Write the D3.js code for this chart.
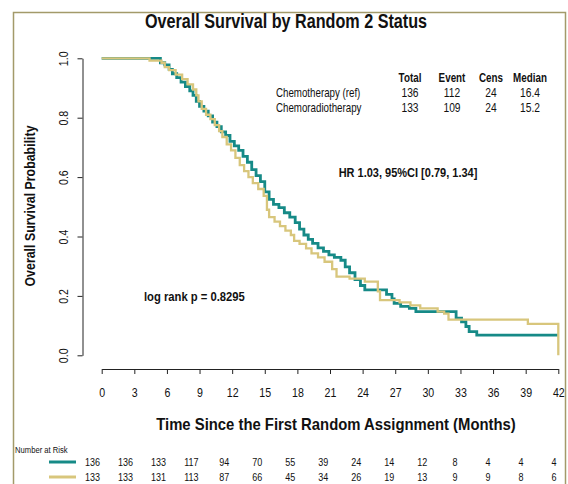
<!DOCTYPE html>
<meta charset="utf-8">
<script src="https://d3js.org/d3.v7.min.js"></script>
<style>
  body { margin: 0; background: #fff; }
  svg text { font-family: "Liberation Sans", Arial, sans-serif; fill: #111; }
</style>
<div id="my_viz"></div>
<script>

// Kaplan-Meier steps: [months, survival]
var chemoSteps = [
  [0, 1.0], [5.4, 0.985], [5.8, 0.978], [6.2, 0.963], [6.5, 0.948], [6.9, 0.935],
  [7.3, 0.92], [7.7, 0.905], [8.1, 0.89], [8.4, 0.875], [8.7, 0.855], [9.0, 0.838],
  [9.4, 0.822], [9.8, 0.806], [10.2, 0.785], [10.6, 0.77], [11.0, 0.752], [11.4, 0.74],
  [11.8, 0.72], [12.2, 0.705], [12.6, 0.69], [13.0, 0.67], [13.4, 0.65], [13.8, 0.625],
  [14.2, 0.605], [14.6, 0.585], [15.0, 0.55], [15.4, 0.525], [15.8, 0.508], [16.3, 0.497],
  [16.8, 0.48], [17.3, 0.465], [17.8, 0.447], [18.2, 0.425], [18.6, 0.405], [19.0, 0.39],
  [19.4, 0.377], [19.9, 0.362], [20.4, 0.35], [20.9, 0.338], [21.4, 0.33], [22.0, 0.32],
  [22.4, 0.298], [22.8, 0.278], [23.3, 0.255], [23.8, 0.235], [24.2, 0.22], [26.2, 0.205],
  [26.7, 0.19], [26.9, 0.175], [27.5, 0.165], [28.3, 0.158], [28.9, 0.147], [32.6, 0.125],
  [33.1, 0.113], [33.5, 0.097], [33.8, 0.08], [34.5, 0.068], [42, 0.068]
];
var chemoradSteps = [
  [0, 1.0], [4.4, 0.992], [5.5, 0.985], [5.8, 0.97], [6.2, 0.96], [6.8, 0.945],
  [7.4, 0.93], [7.9, 0.912], [8.4, 0.895], [8.7, 0.875], [8.9, 0.855], [9.2, 0.83],
  [9.6, 0.81], [10.0, 0.795], [10.4, 0.775], [10.8, 0.755], [11.1, 0.735], [11.5, 0.71],
  [11.9, 0.69], [12.3, 0.665], [12.7, 0.64], [13.1, 0.62], [13.5, 0.6], [13.9, 0.58],
  [14.4, 0.56], [14.9, 0.537], [15.2, 0.49], [15.4, 0.465], [15.9, 0.45], [16.4, 0.435],
  [16.9, 0.42], [17.4, 0.405], [17.7, 0.385], [18.2, 0.375], [18.8, 0.36], [19.3, 0.343],
  [19.9, 0.33], [20.5, 0.315], [21.2, 0.29], [21.6, 0.265], [22.8, 0.258], [24.2, 0.248],
  [25.4, 0.215], [25.6, 0.186], [27.4, 0.178], [28.4, 0.168], [29.3, 0.158], [30.9, 0.147],
  [31.5, 0.14], [31.9, 0.12], [39.2, 0.106], [42, 0.106], [42, 0.0]
];

var groups = ["Chemotherapy (ref)", "Chemoradiotherapy"];
var colors = ["#168a87", "#d8c67c"];
var tableHeader = ["Total", "Event", "Cens", "Median"];
var tableRows = [["136", "112", "24", "16.4"], ["133", "109", "24", "15.2"]];

var xTicks = [0, 3, 6, 9, 12, 15, 18, 21, 24, 27, 30, 33, 36, 39, 42];
var yTicks = [0.0, 0.2, 0.4, 0.6, 0.8, 1.0];
var atRisk = [
  [136, 136, 133, 117, 94, 70, 55, 39, 24, 14, 12, 8, 4, 4, 4],
  [133, 133, 131, 113, 87, 66, 45, 34, 26, 19, 13, 9, 9, 8, 6]
];

var W = 568, H = 484;
var svg = d3.select("#my_viz").append("svg")
    .attr("width", W).attr("height", H);

// the original uses a condensed face, so squeeze text horizontally
function label(px, py, str, size, bold, anchor, sx) {
  return svg.append("text")
    .attr("transform", "translate(" + px + "," + py + ") scale(" + sx + ",1)")
    .attr("text-anchor", anchor)
    .style("font-size", size + "px")
    .style("font-weight", bold ? "bold" : "normal")
    .text(str);
}

// frame
svg.append("rect")
  .attr("x", 13.5).attr("y", 12.5)
  .attr("width", 552).attr("height", 500)
  .attr("fill", "none").attr("stroke", "#a39a6a").attr("stroke-width", 1.5);

var x = d3.scaleLinear().domain([0, 42]).range([101.7, 558.3]);
var y = d3.scaleLinear().domain([0, 1]).range([355.3, 58.3]);

// title
label(286, 28, "Overall Survival by Random 2 Status", 21, true, "middle", 0.77);

// Y axis
var yAxis = svg.append("g")
  .attr("transform", "translate(82.5,0)")
  .call(d3.axisLeft(y).tickValues(yTicks).tickFormat(d3.format(".1f")).tickSize(5).tickSizeOuter(0));
yAxis.selectAll("text")
  .attr("transform", "rotate(-90) scale(0.85,1)")
  .attr("x", 0).attr("y", -15).attr("dy", 0)
  .attr("text-anchor", "middle")
  .style("font-size", "12.5px");

// X axis
var xAxis = svg.append("g")
  .attr("transform", "translate(0,369)")
  .call(d3.axisBottom(x).tickValues(xTicks).tickSize(5).tickSizeOuter(0));
xAxis.selectAll("text")
  .attr("transform", "scale(0.85,1)")
  .attr("x", 0)
  .attr("y", 19)
  .style("font-size", "12.5px");

svg.selectAll(".domain").attr("stroke", "#222");
svg.selectAll(".tick line").attr("stroke", "#222");

// axis titles
svg.append("text")
  .attr("transform", "translate(35,206) rotate(-90) scale(0.8,1)")
  .attr("text-anchor", "middle")
  .style("font-size", "15.5px").style("font-weight", "bold")
  .text("Overall Survival Probability");

label(336, 430, "Time Since the First Random Assignment (Months)", 16.5, true, "middle", 0.9);

// KM curves
var line = d3.line()
  .x(function(d) { return x(d[0]); })
  .y(function(d) { return y(d[1]); })
  .curve(d3.curveStepAfter);

[chemoSteps, chemoradSteps].forEach(function(steps, i) {
  svg.append("path")
    .datum(steps)
    .attr("d", line)
    .attr("fill", "none")
    .attr("stroke", colors[i])
    .attr("stroke-width", i == 0 ? 2.8 : 2.3);
});

// summary table
var colX = [410, 452, 491, 530];
tableHeader.forEach(function(h, i) {
  label(colX[i], 82, h, 12, true, "middle", 0.82);
});

groups.forEach(function(g, r) {
  label(276, 97 + r * 15, g, 12.5, false, "start", 0.78);
  tableRows[r].forEach(function(v, i) {
    label(colX[i], 97 + r * 15, v, 12.5, false, "middle", 0.82);
  });
});

label(408, 177, "HR 1.03, 95%CI [0.79, 1.34]", 12.5, true, "middle", 0.88);
label(144, 301, "log rank p = 0.8295", 12.5, true, "start", 0.9);

// number at risk
var xr = d3.scaleLinear().domain([0, 42]).range([92.5, 554]);
label(15, 453, "Number at Risk", 9, false, "start", 0.85);

atRisk.forEach(function(row, r) {
  var yy = 462 + r * 15;
  svg.append("line")
    .attr("x1", 49).attr("x2", 76)
    .attr("y1", yy).attr("y2", yy)
    .attr("stroke", colors[r]).attr("stroke-width", 3);
  row.forEach(function(v, i) {
    label(xr(xTicks[i]), yy + 4, v, 11, false, "middle", 0.82);
  });
});

</script>
